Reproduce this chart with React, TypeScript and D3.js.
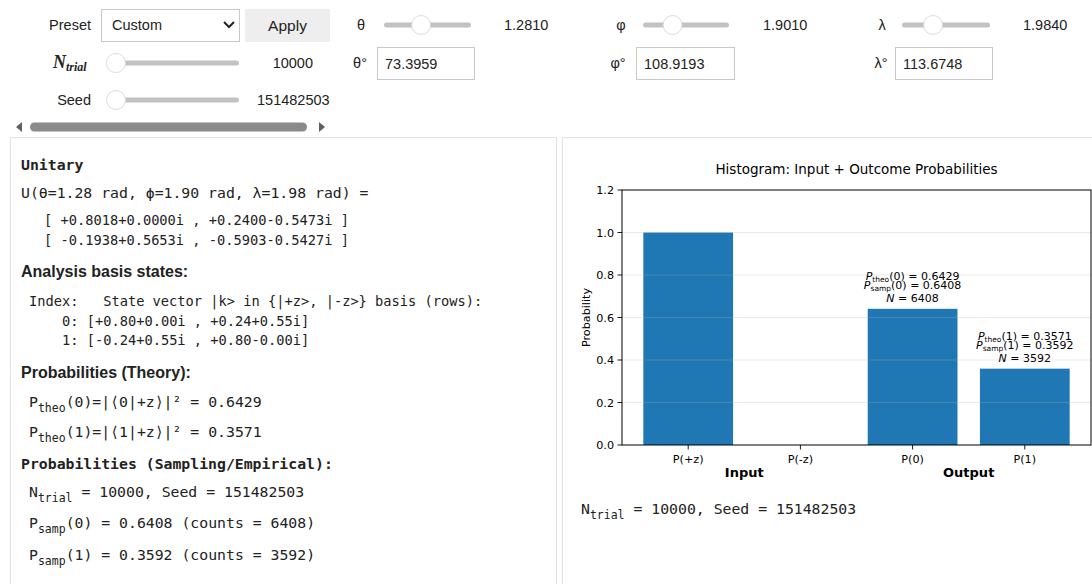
import * as d3 from "d3";

// ---- data ----
const categories = ["P(+z)", "P(-z)", "P(0)", "P(1)"];
const barValues = [1.0, 0.0, 0.6408, 0.3592];
const yTicks = [0, 0.2, 0.4, 0.6, 0.8, 1.0, 1.2];
const groupLabels = ["Input", "Output"];
const groupCenters = [0.5, 2.5];
const outcomeLabels = ["0", "1"];
const outcomeBars = [2, 3];
const pTheo = ["0.6429", "0.3571"];
const pSamp = ["0.6408", "0.3592"];
const sampCounts = [6408, 3592];

const nTrial = 10000;
const seed = 151482503;
const angleNames = ["θ", "φ", "λ"];
const angleRad = [1.281, 1.901, 1.984];
const angleDeg = ["73.3959", "108.9193", "113.6748"];
const angleMax = [Math.PI, 2 * Math.PI, 2 * Math.PI];
const unitaryRows = [
  ["+0.8018+0.0000i", "+0.2400-0.5473i"],
  ["-0.1938+0.5653i", "-0.5903-0.5427i"],
];
const basisRows = [
  ["+0.80+0.00i", "+0.24+0.55i"],
  ["-0.24+0.55i", "+0.80-0.00i"],
];

const MONO = "'DejaVu Sans Mono', monospace";
const UI = "'Liberation Sans', Arial, sans-serif";
const MPL = "'DejaVu Sans', sans-serif";
const BLUE = "#1f77b4";

type Part = [string, boolean];

function SubText({ x, y, parts, size, subSize, shift, family, weight, fill = "#222" }: {
  x: number; y: number; parts: Part[]; size: number; subSize: number; shift: number;
  family: string; weight?: string; fill?: string;
}) {
  return (
    <text x={x} y={y} fontFamily={family} fontWeight={weight} fontSize={size} fill={fill}
      style={{ whiteSpace: "pre" }}>
      {parts.map(([t, sub], i) => {
        const prev = i > 0 ? parts[i - 1][1] : false;
        const dy = sub && !prev ? shift : !sub && prev ? -shift : 0;
        return (
          <tspan key={i} dy={dy} fontSize={sub ? subSize : size}>{t}</tspan>
        );
      })}
    </text>
  );
}

function Slider({ x0, x1, cy, t }: { x0: number; x1: number; cy: number; t: number }) {
  const s = d3.scaleLinear().domain([0, 1]).range([x0 + 9, x1 - 9]);
  return (
    <g>
      <rect x={x0} y={cy - 2.5} width={x1 - x0} height={5} rx={2.5} fill="#c2c2c2" />
      <circle cx={s(t)} cy={cy} r={9.5} fill="#fff" stroke="#dcdcdc" strokeWidth={1} />
    </g>
  );
}

function Controls() {
  const fs = 14.5;
  const sliders = [
    { label: 423 - 62, track: [384, 471], val: 504 },
    { label: 621, track: [643, 729], val: 763 },
    { label: 882, track: [902, 990], val: 1023 },
  ];
  const degBoxes = [
    { label: 360, box: [377, 474] },
    { label: 618, box: [636, 734] },
    { label: 881, box: [895, 992] },
  ];
  return (
    <g fontFamily={UI} fontSize={fs} fill="#222">
      <text x={91} y={30} textAnchor="end">Preset</text>
      <rect x={101.5} y={9.5} width={138} height={32} fill="#fff" stroke="#c8c8c8" />
      <text x={112} y={30}>Custom</text>
      <path d="M224,22 l5,5 l5,-5" fill="none" stroke="#222" strokeWidth={2} />
      <rect x={245} y={9} width={85} height={33} fill="#eeeeee" />
      <text x={287.5} y={30.5} textAnchor="middle" fontSize={15.5}>Apply</text>

      {sliders.map((s, i) => (
        <g key={i}>
          <text x={s.label} y={30} textAnchor="middle">{angleNames[i]}</text>
          <Slider x0={s.track[0]} x1={s.track[1]} cy={25} t={angleRad[i] / angleMax[i]} />
          <text x={s.val} y={30}>{angleRad[i].toFixed(4)}</text>
        </g>
      ))}

      <text x={53} y={68} fontFamily="'Liberation Serif', 'DejaVu Serif', serif" fontStyle="italic" fontWeight="bold">
        <tspan fontSize={18}>N</tspan>
        <tspan fontSize={12} dy={3}>trial</tspan>
      </text>
      <Slider x0={107} x1={239} cy={63} t={0} />
      <text x={313} y={68} textAnchor="end">{nTrial}</text>

      {degBoxes.map((b, i) => (
        <g key={i}>
          <text x={b.label} y={68} textAnchor="middle">{angleNames[i] + "°"}</text>
          <rect x={b.box[0] + 0.5} y={47.5} width={b.box[1] - b.box[0]} height={32} fill="#fff" stroke="#c8c8c8" />
          <text x={b.box[0] + 8} y={68.5}>{angleDeg[i]}</text>
        </g>
      ))}

      <text x={91} y={105} textAnchor="end">Seed</text>
      <Slider x0={107} x1={239} cy={100} t={0} />
      <text x={257} y={105}>{seed}</text>

      <path d="M22,122 l-6,5 l6,5 z" fill="#606060" />
      <rect x={30} y={122.5} width={277} height={9} rx={4.5} fill="#8a8a8a" />
      <path d="M319,122 l6,5 l-6,5 z" fill="#606060" />
    </g>
  );
}

function LeftPanel() {
  const f = 14.8;
  const fs = 13.7;
  return (
    <g fill="#222">
      <rect x={10.5} y={137.5} width={546} height={460} fill="#fff" stroke="#e0e0e0" />
      <text x={21} y={170} fontFamily={MONO} fontSize={f} fontWeight="bold">Unitary</text>
      <text x={21} y={198} fontFamily={MONO} fontSize={f} style={{ whiteSpace: "pre" }}>
        {`U(θ=${angleRad[0].toFixed(2)} rad, ϕ=${angleRad[1].toFixed(2)} rad, λ=${angleRad[2].toFixed(2)} rad) =`}
      </text>
      {unitaryRows.map((r, i) => (
        <text key={i} x={44} y={225 + i * 20} fontFamily={MONO} fontSize={fs} style={{ whiteSpace: "pre" }}>
          {`[ ${r[0]} , ${r[1]} ]`}
        </text>
      ))}
      <text x={21} y={277} fontFamily={UI} fontSize={16} fontWeight="bold">Analysis basis states:</text>
      <text x={29} y={306} fontFamily={MONO} fontSize={fs} style={{ whiteSpace: "pre" }}>
        {"Index:   State vector |k> in {|+z>, |-z>} basis (rows):"}
      </text>
      {basisRows.map((r, i) => (
        <text key={i} x={62} y={326 + i * 19} fontFamily={MONO} fontSize={fs} style={{ whiteSpace: "pre" }}>
          {`${i}: [${r[0]} , ${r[1]}]`}
        </text>
      ))}
      <text x={21} y={378} fontFamily={UI} fontSize={16} fontWeight="bold">Probabilities (Theory):</text>
      {outcomeLabels.map((k, i) => (
        <SubText key={k} x={29} y={407 + i * 30} family={MONO} size={f} subSize={11.5} shift={5}
          parts={[["P", false], ["theo", true], [`(${k})=|⟨${k}|+z⟩|² = ${pTheo[i]}`, false]]} />
      ))}
      <text x={21} y={469} fontFamily={MONO} fontSize={f} fontWeight="bold">Probabilities (Sampling/Empirical):</text>
      <SubText x={29} y={497} family={MONO} size={f} subSize={11.5} shift={5}
        parts={[["N", false], ["trial", true], [` = ${nTrial}, Seed = ${seed}`, false]]} />
      {outcomeLabels.map((k, i) => (
        <SubText key={k} x={29} y={528 + i * 32} family={MONO} size={f} subSize={11.5} shift={5}
          parts={[["P", false], ["samp", true], [`(${k}) = ${pSamp[i]} (counts = ${sampCounts[i]})`, false]]} />
      ))}
    </g>
  );
}

function Histogram() {
  const x = d3.scaleLinear().domain([-0.59, 3.59]).range([622, 1091]);
  const y = d3.scaleLinear().domain([0, 1.2]).range([445, 190]);
  const bw = x(0.8) - x(0);
  const [x0, x1] = x.range();
  const [yb, yt] = y.range();
  const tick = 4.5;
  return (
    <g fontFamily={MPL} fill="#000">
      <rect x={562.5} y={137.5} width={560} height={460} fill="#fff" stroke="#e0e0e0" />
      <text x={(x0 + x1) / 2} y={174} textAnchor="middle" fontSize={13.5}>
        Histogram: Input + Outcome Probabilities
      </text>
      {categories.map((c, i) => (
        <rect key={c} x={x(i) - bw / 2} y={y(barValues[i])} width={bw}
          height={y(0) - y(barValues[i])} fill={BLUE} />
      ))}
      {yTicks.slice(1, -1).map((t) => (
        <line key={t} x1={x0} x2={x1} y1={y(t)} y2={y(t)} stroke="#b0b0b0" strokeOpacity={0.3} strokeWidth={0.9} />
      ))}
      <rect x={x0} y={yt} width={x1 - x0} height={yb - yt} fill="none" stroke="#000" strokeWidth={1} />
      {yTicks.map((t) => (
        <g key={t}>
          <line x1={x0 - tick} x2={x0} y1={y(t)} y2={y(t)} stroke="#000" strokeWidth={0.9} />
          <text x={x0 - 8} y={y(t) + 4} textAnchor="end" fontSize={11.2}>{t.toFixed(1)}</text>
        </g>
      ))}
      {categories.map((c, i) => (
        <g key={c}>
          <line x1={x(i)} x2={x(i)} y1={yb} y2={yb + tick} stroke="#000" strokeWidth={0.9} />
          <text x={x(i)} y={yb + 18} textAnchor="middle" fontSize={11.2}>{c}</text>
        </g>
      ))}
      {groupLabels.map((g, i) => (
        <text key={g} x={x(groupCenters[i])} y={yb + 32} textAnchor="middle" fontSize={13} fontWeight="bold">{g}</text>
      ))}
      <text transform={`translate(${590},${(yb + yt) / 2}) rotate(-90)`} textAnchor="middle" fontSize={11.2}>
        Probability
      </text>
      {outcomeBars.map((b, i) => {
        const top = y(barValues[b]);
        const cx = x(b);
        return (
          <g key={b} fontSize={11} textAnchor="middle" style={{ whiteSpace: "pre" }}>
            <text x={cx} y={top - 29}>
              <tspan fontStyle="italic">P</tspan>
              <tspan fontSize={7.5} dy={2}>theo</tspan>
              <tspan dy={-2}>{`(${outcomeLabels[i]}) = ${pTheo[i]}`}</tspan>
            </text>
            <text x={cx} y={top - 20}>
              <tspan fontStyle="italic">P</tspan>
              <tspan fontSize={7.5} dy={2}>samp</tspan>
              <tspan dy={-2}>{`(${outcomeLabels[i]}) = ${pSamp[i]}`}</tspan>
            </text>
            <text x={cx} y={top - 7}>
              <tspan fontStyle="italic">N</tspan>
              <tspan>{` = ${sampCounts[i]}`}</tspan>
            </text>
          </g>
        );
      })}
      <SubText x={581} y={514} family={MONO} size={14.8} subSize={11.5} shift={5}
        parts={[["N", false], ["trial", true], [` = ${nTrial}, Seed = ${seed}`, false]]} />
    </g>
  );
}

export default function App() {
  return (
    <svg width={1092} height={584} style={{ position: "absolute", left: 0, top: 0, background: "#fff" }}>
      <Controls />
      <LeftPanel />
      <Histogram />
    </svg>
  );
}
